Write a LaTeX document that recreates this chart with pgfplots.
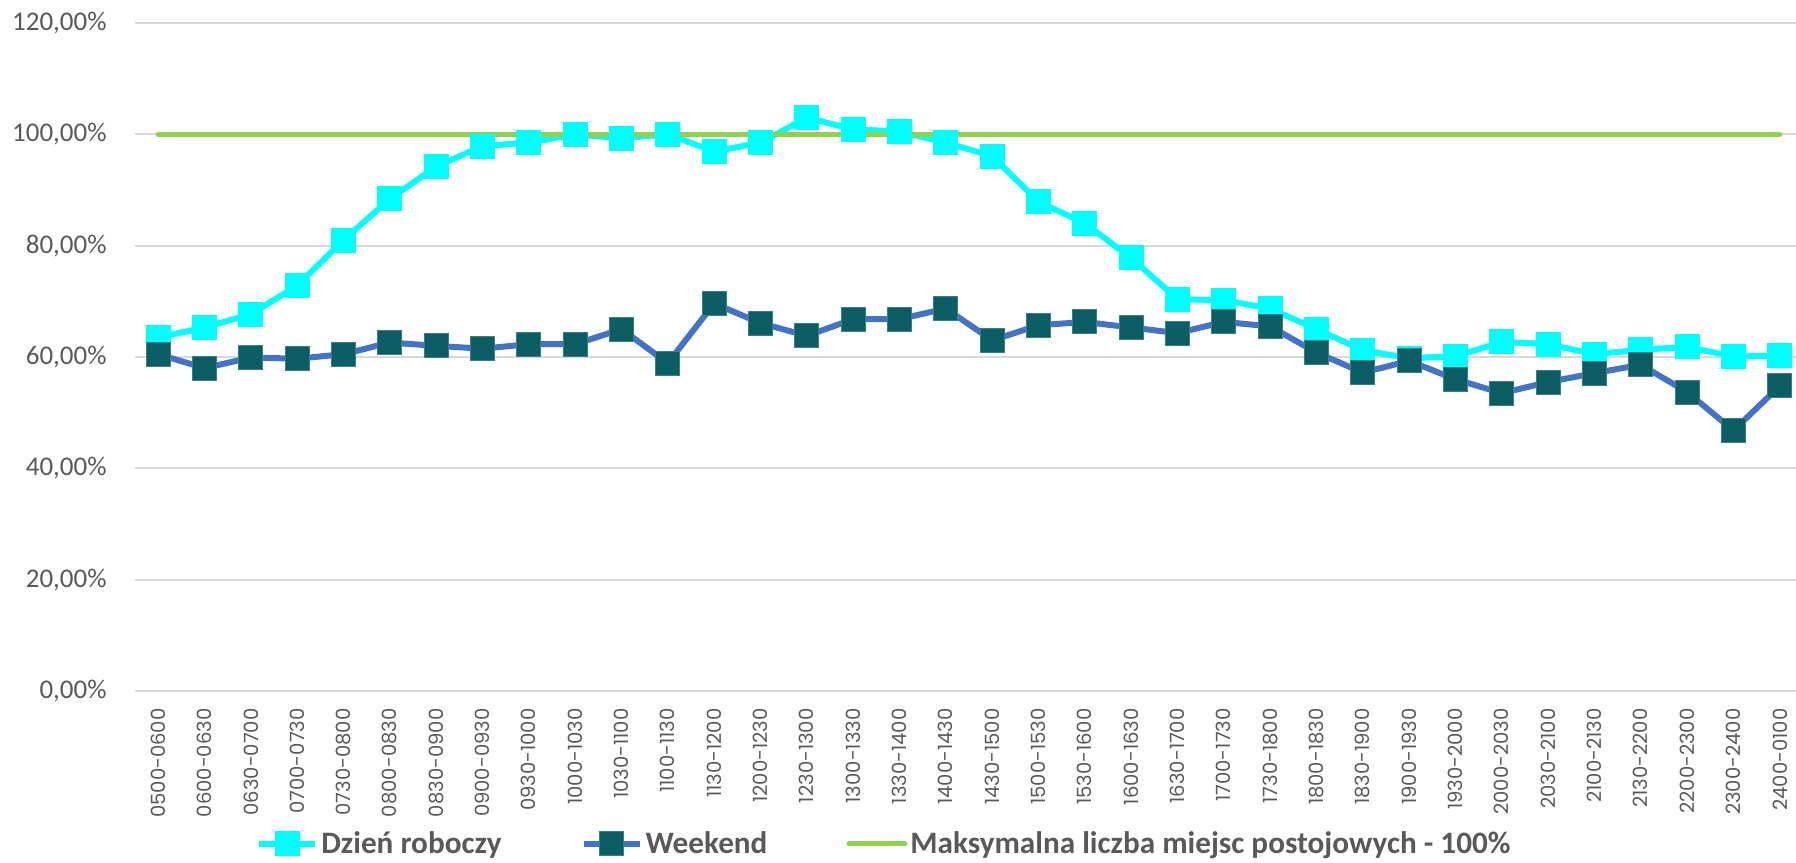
\documentclass[border=0pt]{standalone}
\usepackage{pgfplots}
\pgfplotsset{compat=1.18}
\usepackage{fontspec}
\setmainfont{Carlito}
\newfontfamily\xfont{Poppins}
\definecolor{cyanline}{HTML}{00FFFF}
\definecolor{wkline}{HTML}{4472C4}
\definecolor{wkmark}{HTML}{0B5F64}
\definecolor{maxline}{HTML}{92D050}
\definecolor{gridc}{HTML}{D9D9D9}
\definecolor{txt}{HTML}{595959}
\begin{document}
\begin{tikzpicture}
\path[use as bounding box] (0,0) rectangle (898pt,431.5pt);
\begin{axis}[
  at={(67.5pt,86pt)}, anchor=south west,
  scale only axis, width=830.5pt, height=334pt,
  xmin=-0.5, xmax=35.35, ymin=0, ymax=120,
  clip=false,
  axis line style={draw=none},
  tick style={draw=none},
  ymajorgrids, grid style={gridc, line width=1pt},
  ytick={0,20,40,60,80,100,120},
  yticklabels={{0,00\%},{20,00\%},{40,00\%},{60,00\%},{80,00\%},{100,00\%},{120,00\%}},
  yticklabel style={font=\fontsize{13.5}{16}\selectfont, text=txt, anchor=east, inner sep=0pt},
  yticklabel shift=14pt,
  xtick={0,...,35},
  xticklabels={0500-0600,0600-0630,0630-0700,0700-0730,0730-0800,0800-0830,0830-0900,0900-0930,0930-1000,1000-1030,1030-1100,1100-1130,1130-1200,1200-1230,1230-1300,1300-1330,1330-1400,1400-1430,1430-1500,1500-1530,1530-1600,1600-1630,1630-1700,1700-1730,1730-1800,1800-1830,1830-1900,1900-1930,1930-2000,2000-2030,2030-2100,2100-2130,2130-2200,2200-2300,2300-2400,2400-0100},
  xticklabel style={font=\xfont\fontsize{9.8}{11}\selectfont, text=txt, rotate=90, anchor=east, inner sep=0pt},
  xticklabel shift=8.5pt,
  legend style={at={(0.4515,-0.229)}, anchor=center, draw=none, fill=none,
    font=\bfseries\fontsize{15.6}{18}\selectfont, text=txt,
    /tikz/every even column/.append style={column sep=38pt},
    nodes={inner sep=1.5pt}},
  legend columns=3,
  legend image code/.code={\draw[mark repeat=2,mark phase=2] plot coordinates {(0pt,0pt) (14pt,0pt) (28pt,0pt)};},
]
\addplot[cyanline, line width=3pt, mark=square*, mark size=6pt,
  mark options={fill=cyanline, draw=cyanline, line width=0.5pt, rounded corners=1pt}]
coordinates {
(0,63.5) (1,65.3) (2,67.7) (3,72.8) (4,81.0) (5,88.4) (6,94.2) (7,97.9) (8,98.5) (9,100.0)
(10,99.3) (11,100.0) (12,96.9) (13,98.5) (14,103.0) (15,100.9) (16,100.5) (17,98.5) (18,96.1) (19,87.9)
(20,84.0) (21,77.8) (22,70.4) (23,70.2) (24,68.7) (25,65.0) (26,61.2) (27,59.8) (28,60.1) (29,62.7)
(30,62.3) (31,60.5) (32,61.3) (33,61.8) (34,60.1) (35,60.2)
};
\addplot[wkline, line width=3pt, mark=square*, mark size=6pt,
  mark options={fill=wkmark, draw=wkmark!80!white, line width=0.5pt, rounded corners=1pt}]
coordinates {
(0,60.5) (1,58.0) (2,59.9) (3,59.7) (4,60.5) (5,62.6) (6,62.0) (7,61.5) (8,62.3) (9,62.3)
(10,65.0) (11,58.9) (12,69.6) (13,66.1) (14,63.8) (15,66.8) (16,66.8) (17,68.7) (18,63.0) (19,65.7)
(20,66.3) (21,65.3) (22,64.3) (23,66.3) (24,65.5) (25,60.8) (26,57.2) (27,59.3) (28,56.0) (29,53.5)
(30,55.5) (31,57.1) (32,58.6) (33,53.7) (34,46.8) (35,54.8)
};
\addplot[maxline, line width=2.5pt, line cap=round, no marks] coordinates {(0,100) (35,100)};
\legend{Dzień roboczy, Weekend, Maksymalna liczba miejsc postojowych - 100\%}
\end{axis}
\end{tikzpicture}
\end{document}
